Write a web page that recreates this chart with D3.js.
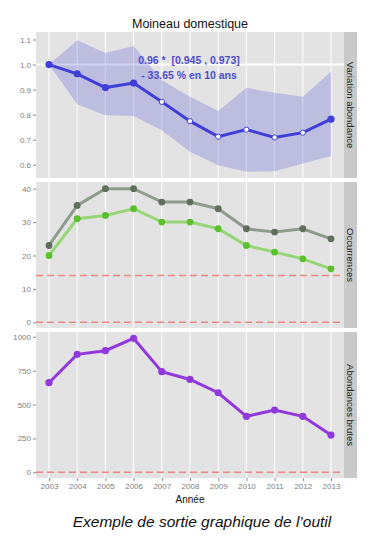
<!DOCTYPE html>
<html>
<head>
<meta charset="utf-8">
<script src="https://cdn.jsdelivr.net/npm/d3@7"></script>
<style>
  body { margin: 0; background: #fff; }
  text { font-family: "Liberation Sans", Arial, sans-serif; }
</style>
</head>
<body>
<svg id="chart" width="392" height="548"></svg>
<script>
// données
const years = [2003, 2004, 2005, 2006, 2007, 2008, 2009, 2010, 2011, 2012, 2013];
const variation = [1.0, 0.963, 0.908, 0.926, 0.851, 0.774, 0.712, 0.740, 0.709, 0.728, 0.782];
const varHigh = [1.0, 1.097, 1.046, 1.074, 0.937, 0.871, 0.815, 0.907, 0.887, 0.871, 0.971];
const varLow = [1.0, 0.841, 0.798, 0.795, 0.738, 0.652, 0.598, 0.572, 0.574, 0.605, 0.635];
const significant = [true, true, true, true, false, false, false, false, false, false, true];
const occTotal = [23, 35, 40, 40, 36, 36, 34, 28, 27, 28, 25];
const occPresent = [20, 31, 32, 34, 30, 30, 28, 23, 21, 19, 16];
const occThreshold = [14, 0];
const abondance = [661, 870, 897, 988, 742, 685, 587, 413, 459, 413, 275];
const abThreshold = [0];

const yTicks1 = [0.6, 0.7, 0.8, 0.9, 1.0, 1.1];
const yTicks2 = [0, 10, 20, 30, 40];
const yTicks3 = [0, 250, 500, 750, 1000];

const svg = d3.select('#chart');
const left = 36, right = 344, stripW = 13;

const x = d3.scalePoint()
    .domain(years)
    .range([49, 331]);

const panels = [
    { top: 32, bottom: 178, domain: [0.547, 1.13], ticks: yTicks1, fmt: d3.format('.1f'), label: 'Variation abondance' },
    { top: 182, bottom: 328, domain: [-1.7, 42], ticks: yTicks2, fmt: d3.format('d'), label: 'Occurrences' },
    { top: 332, bottom: 478, domain: [-42, 1035], ticks: yTicks3, fmt: d3.format('d'), label: 'Abondances brutes' }
];

panels.forEach(p => {
    p.y = d3.scaleLinear().domain(p.domain).range([p.bottom, p.top]);
    svg.append('rect')
        .attr('x', left).attr('y', p.top)
        .attr('width', right - left).attr('height', p.bottom - p.top)
        .attr('fill', '#e3e3e3');
    // grille verticale
    svg.append('g').selectAll('line')
        .data(years)
        .enter().append('line')
            .attr('x1', d => x(d)).attr('x2', d => x(d))
            .attr('y1', p.top).attr('y2', p.bottom)
            .attr('stroke', '#fff')
            .attr('stroke-width', 1);
    // bandeau à droite
    svg.append('rect')
        .attr('x', right).attr('y', p.top)
        .attr('width', stripW).attr('height', p.bottom - p.top)
        .attr('fill', '#c9c9c9');
    const cy = (p.top + p.bottom) / 2;
    svg.append('text')
        .attr('transform', `translate(${right + stripW / 2 - 3.3},${cy}) rotate(90)`)
        .attr('text-anchor', 'middle')
        .attr('font-size', 9.5)
        .attr('fill', '#1a1a1a')
        .text(p.label);
    // axe y
    const axis = d3.axisLeft(p.y)
        .tickValues(p.ticks)
        .tickFormat(p.fmt)
        .tickSize(3)
        .tickPadding(2);
    const g = svg.append('g')
        .attr('transform', `translate(${left},0)`)
        .call(axis);
    g.select('.domain').remove();
    g.selectAll('line').attr('stroke', '#8a8a8a');
    g.selectAll('text').attr('fill', '#808080').attr('font-size', 8)
        .style('font-family', '"Liberation Sans", Arial, sans-serif');
});

// panneau 1 : variation d'abondance
const p1 = panels[0];
svg.append('line')
    .attr('x1', left).attr('x2', right)
    .attr('y1', p1.y(1)).attr('y2', p1.y(1))
    .attr('stroke', '#fff').attr('stroke-width', 2);

svg.append('path')
    .datum(years)
    .attr('fill', '#4b4bd8')
    .attr('fill-opacity', 0.25)
    .attr('d', d3.area()
        .x(d => x(d))
        .y0((d, i) => p1.y(varLow[i]))
        .y1((d, i) => p1.y(varHigh[i])));

svg.append('path')
    .datum(variation)
    .attr('fill', 'none')
    .attr('stroke', '#3f3fd8')
    .attr('stroke-width', 3)
    .attr('d', d3.line()
        .x((d, i) => x(years[i]))
        .y(d => p1.y(d)));

svg.append('g').selectAll('circle')
    .data(variation)
    .enter().append('circle')
        .attr('cx', (d, i) => x(years[i]))
        .attr('cy', d => p1.y(d))
        .attr('r', (d, i) => significant[i] ? 3.6 : 2.6)
        .attr('fill', (d, i) => significant[i] ? '#3f3fd8' : '#fff')
        .attr('stroke', '#3f3fd8')
        .attr('stroke-width', (d, i) => significant[i] ? 0 : 1);

svg.append('text')
    .attr('x', 189).attr('y', 64)
    .attr('text-anchor', 'middle')
    .attr('font-size', 10.5).attr('font-weight', 'bold')
    .attr('fill', '#4d4dd0')
    .style('white-space', 'pre')
    .text('0.96 *  [0.945 , 0.973]');
svg.append('text')
    .attr('x', 189).attr('y', 79)
    .attr('text-anchor', 'middle')
    .attr('font-size', 10.5).attr('font-weight', 'bold')
    .attr('fill', '#4d4dd0')
    .text('- 33.65 % en 10 ans');

// panneau 2 : occurrences
const p2 = panels[1];
svg.append('g').selectAll('line')
    .data(occThreshold)
    .enter().append('line')
        .attr('x1', left).attr('x2', right)
        .attr('y1', d => p2.y(d)).attr('y2', d => p2.y(d))
        .attr('stroke', '#f08585')
        .attr('stroke-width', 1.4)
        .attr('stroke-dasharray', '7,4');

const series2 = [
    { values: occTotal, line: '#8e9c8b', dot: '#5f6f5c' },
    { values: occPresent, line: '#96d676', dot: '#5cbf2c' }
];
series2.forEach(s => {
    svg.append('path')
        .datum(s.values)
        .attr('fill', 'none')
        .attr('stroke', s.line)
        .attr('stroke-width', 3)
        .attr('d', d3.line()
            .x((d, i) => x(years[i]))
            .y(d => p2.y(d)));
    svg.append('g').selectAll('circle')
        .data(s.values)
        .enter().append('circle')
            .attr('cx', (d, i) => x(years[i]))
            .attr('cy', d => p2.y(d))
            .attr('r', 3.4)
            .attr('fill', s.dot);
});

// panneau 3 : abondances brutes
const p3 = panels[2];
svg.append('g').selectAll('line')
    .data(abThreshold)
    .enter().append('line')
        .attr('x1', left).attr('x2', right)
        .attr('y1', d => p3.y(d)).attr('y2', d => p3.y(d))
        .attr('stroke', '#f08585')
        .attr('stroke-width', 1.4)
        .attr('stroke-dasharray', '7,4');

svg.append('path')
    .datum(abondance)
    .attr('fill', 'none')
    .attr('stroke', '#9138dc')
    .attr('stroke-width', 3)
    .attr('d', d3.line()
        .x((d, i) => x(years[i]))
        .y(d => p3.y(d)));
svg.append('g').selectAll('circle')
    .data(abondance)
    .enter().append('circle')
        .attr('cx', (d, i) => x(years[i]))
        .attr('cy', d => p3.y(d))
        .attr('r', 3.6)
        .attr('fill', '#9138dc');

// axe x
const xAxis = d3.axisBottom(x).tickSize(3).tickPadding(2);
const gx = svg.append('g')
    .attr('transform', `translate(0,${p3.bottom})`)
    .call(xAxis);
gx.select('.domain').remove();
gx.selectAll('line').attr('stroke', '#8a8a8a');
gx.selectAll('text').attr('fill', '#808080').attr('font-size', 8)
    .style('font-family', '"Liberation Sans", Arial, sans-serif');

// titres
svg.append('text')
    .attr('x', 190).attr('y', 28)
    .attr('text-anchor', 'middle')
    .attr('font-size', 12.5)
    .attr('fill', '#111')
    .text('Moineau domestique');
svg.append('text')
    .attr('x', 190).attr('y', 503)
    .attr('text-anchor', 'middle')
    .attr('font-size', 10)
    .attr('fill', '#111')
    .text('Année');
svg.append('text')
    .attr('x', 202).attr('y', 527)
    .attr('text-anchor', 'middle')
    .attr('font-size', 15.5)
    .attr('font-style', 'italic')
    .attr('fill', '#111')
    .text('Exemple de sortie graphique de l’outil');
</script>
</body>
</html>
